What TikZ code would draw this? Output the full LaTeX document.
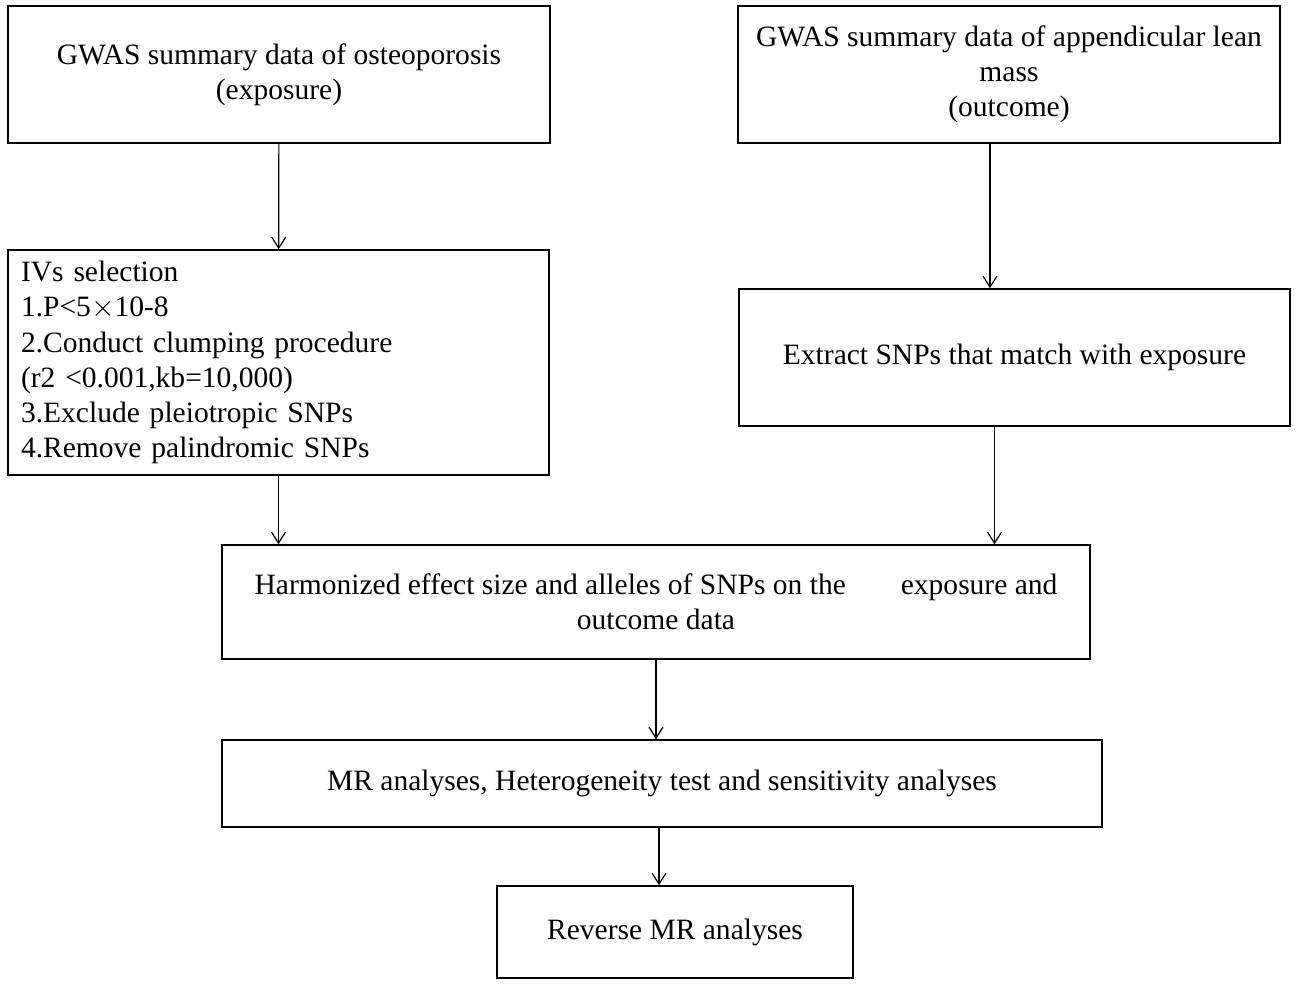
\documentclass[tikz,border=0pt]{standalone}
\usepackage{fontspec}
\setmainfont{Liberation Serif}
\usetikzlibrary{positioning,calc,arrows.meta}

\begin{document}
\begin{tikzpicture}[x=0.02cm,y=-0.02cm,font=\fontsize{16.8}{20}\selectfont,
	box/.style={draw,line width=0.9pt,inner sep=0pt,align=center},
	arr/.style={-{Straight Barb[length=2.2mm,width=2.8mm]},line width=0.7pt}]
	\useasboundingbox (0,0) rectangle (1299,988);
	%izq
	\node(b1)[box,minimum width=10.84cm,minimum height=2.74cm] at (279,74.5)
		{GWAS summary data of osteoporosis\\(exposure)};
	\node(b3)[box,align=left,text width=10.3cm,inner xsep=0.26cm,minimum height=4.5cm] at (278.5,362.5)
		{IVs selection\\1.P<5$\times$10-8\\2.Conduct clumping procedure\\(r2 <0.001,kb=10,000)\\3.Exclude pleiotropic SNPs\\4.Remove palindromic SNPs};
	%der
	\node(b2)[box,minimum width=10.84cm,minimum height=2.74cm] at (1009,74.5)
		{GWAS summary data of appendicular lean\\mass\\(outcome)};
	\node(b4)[box,minimum width=11.02cm,minimum height=2.74cm] at (1014.5,357.5)
		{Extract SNPs that match with exposure};
	%abajo
	\node(b5)[box,minimum width=17.36cm,minimum height=2.28cm] at (656,602)
		{Harmonized effect size and alleles of SNPs on the\hspace{1.1cm}exposure and\\outcome data};
	\node(b6)[box,minimum width=17.6cm,minimum height=1.74cm] at (662,783.5)
		{MR analyses, Heterogeneity test and sensitivity analyses};
	\node(b7)[box,minimum width=7.12cm,minimum height=1.84cm] at (675,932)
		{Reverse MR analyses};
	\draw[arr] (b1) -- (b3);
	\draw[arr] ($(b2.south)+(-19,0)$) coordinate(t2) -- (t2 |- b4.north);
	\draw[arr] (b3.south) -- (b3.south |- b5.north);
	\draw[arr] ($(b4.south)+(-20,0)$) coordinate(t4) -- (t4 |- b5.north);
	\draw[arr] (b5.south) -- (b5.south |- b6.north);
	\draw[arr] ($(b6.south)+(-3,0)$) coordinate(t6) -- (t6 |- b7.north);
\end{tikzpicture}
\end{document}
